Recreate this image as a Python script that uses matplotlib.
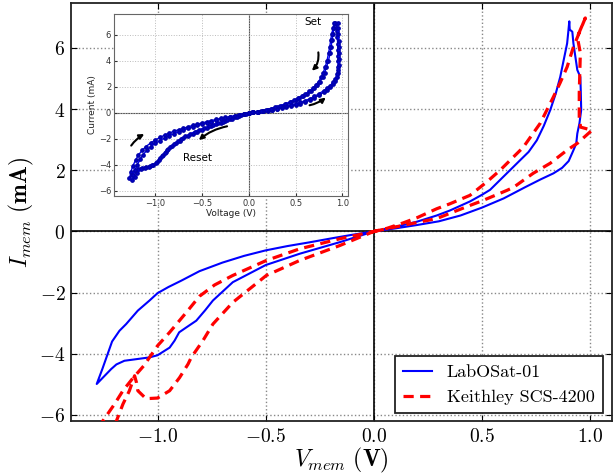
import numpy as np
import matplotlib
matplotlib.use("Agg")
import matplotlib.pyplot as plt
from matplotlib.ticker import FuncFormatter

plt.rcParams['mathtext.fontset'] = 'cm'

# ---- main plot: LabOSat-01 (blue) ----
labosat_v = [0.0, 0.1, 0.2, 0.3, 0.4, 0.5, 0.6, 0.7, 0.77, 0.83, 0.87, 0.9, 0.92, 0.935,
             0.94, 0.95, 0.958, 0.956, 0.954, 0.94, 0.922, 0.917, 0.905, 0.903,
             0.898, 0.893, 0.877, 0.861, 0.84, 0.815, 0.785, 0.753, 0.715, 0.676, 0.6,
             0.537, 0.5, 0.444, 0.35, 0.29, 0.2, 0.1, 0.0,
             -0.1, -0.19, -0.3, -0.4, -0.5, -0.6, -0.7, -0.806, -0.89, -0.95, -1.0, -1.037,
             -1.091, -1.145, -1.176, -1.21, -1.23, -1.255, -1.281,
             -1.214, -1.19, -1.153, -1.1, -1.037, -1.0, -0.944, -0.921, -0.9, -0.867, -0.821,
             -0.78, -0.744, -0.652, -0.5, -0.343, -0.157, 0.0]
labosat_i = [0.0, 0.1, 0.21, 0.33, 0.52, 0.78, 1.08, 1.45, 1.7, 1.9, 2.08, 2.3, 2.62, 2.87,
             3.2, 3.54, 3.97, 4.6, 5.05, 5.28, 6.15, 6.53, 6.6, 6.87,
             6.5, 6.15, 5.6, 5.05, 4.5, 3.97, 3.45, 2.98, 2.6, 2.33, 1.8,
             1.36, 1.2, 0.98, 0.68, 0.52, 0.32, 0.15, 0.0,
             -0.11, -0.22, -0.36, -0.48, -0.62, -0.8, -1.02, -1.3, -1.61, -1.82, -2.02, -2.26,
             -2.59, -3.03, -3.25, -3.6, -4.0, -4.5, -4.99,
             -4.5, -4.35, -4.23, -4.18, -4.12, -4.05, -3.8, -3.57, -3.3, -3.14, -2.92,
             -2.58, -2.26, -1.66, -1.1, -0.73, -0.35, 0.0]

# ---- main plot: Keithley SCS-4200 (red dashed) ----
keithley_v = [0.0, 0.136, 0.29, 0.444, 0.5, 0.614, 0.645, 0.736, 0.815, 0.893, 0.94, 1.008,
              0.955, 0.949, 0.949, 0.954, 0.94, 0.977,
              0.922, 0.893, 0.86, 0.829, 0.769, 0.69, 0.583, 0.522, 0.444, 0.35, 0.29, 0.2,
              0.136, 0.06, 0.0,
              -0.157, -0.343, -0.497, -0.652, -0.736, -0.806, -0.867, -0.944, -1.0, -1.037,
              -1.063, -1.114, -1.16, -1.199, -1.253, -1.29, -1.26,
              -1.215, -1.19, -1.16, -1.13, -1.106, -1.097, -1.091, -1.053, -1.0, -0.944,
              -0.898, -0.859, -0.844, -0.79, -0.744, -0.652, -0.497, -0.343, -0.157, 0.0]
keithley_i = [0.0, 0.2, 0.42, 0.85, 1.0, 1.34, 1.44, 1.9, 2.23, 2.66, 2.88, 3.31,
              3.41, 3.74, 4.52, 5.84, 6.36, 6.98,
              6.03, 5.38, 4.85, 4.39, 3.54, 2.75, 2.0, 1.62, 1.18, 0.9, 0.74, 0.45,
              0.28, 0.1, 0.0,
              -0.24, -0.57, -0.95, -1.44, -1.75, -2.12, -2.65, -3.3, -3.74, -4.12,
              -4.39, -4.8, -5.21, -5.65, -6.2, -6.6, -7.2,
              -6.6, -6.2, -5.65, -5.21, -4.72, -4.95, -5.21, -5.47, -5.45, -5.21,
              -4.78, -4.34, -4.12, -3.57, -3.03, -2.32, -1.44, -0.95, -0.46, 0.0]

# ---- inset: two measured cycles ----
c1_v = [0.0, 0.05, 0.1, 0.15, 0.2, 0.25, 0.3, 0.35, 0.4, 0.45, 0.5, 0.55, 0.6, 0.65, 0.7,
        0.75, 0.8, 0.84, 0.87, 0.9, 0.92, 0.94, 0.95, 0.955, 0.955, 0.955, 0.95, 0.95,
        0.945, 0.94, 0.935,
        0.92, 0.91, 0.9, 0.89, 0.88, 0.87, 0.85, 0.83, 0.81, 0.79, 0.76, 0.73, 0.7, 0.66,
        0.62, 0.58, 0.54, 0.5, 0.45, 0.4, 0.35, 0.3, 0.25, 0.2, 0.15, 0.1, 0.05, 0.0,
        -0.05, -0.1, -0.15, -0.2, -0.25, -0.3, -0.35, -0.4, -0.45, -0.5, -0.55, -0.6,
        -0.65, -0.7, -0.75, -0.8, -0.85, -0.9, -0.95, -1.0, -1.05, -1.1, -1.14, -1.18,
        -1.21, -1.24, -1.26, -1.275,
        -1.25, -1.22, -1.18, -1.14, -1.1, -1.06, -1.02, -0.98, -0.95, -0.92, -0.89,
        -0.86, -0.82, -0.78, -0.74, -0.7, -0.65, -0.6, -0.55, -0.5, -0.45, -0.4, -0.35,
        -0.3, -0.25, -0.2, -0.15, -0.1, -0.05, 0.0]
c1_i = [0.0, 0.03, 0.07, 0.11, 0.16, 0.22, 0.29, 0.36, 0.44, 0.52, 0.61, 0.71, 0.83, 0.97,
        1.15, 1.35, 1.58, 1.78, 1.98, 2.2, 2.45, 2.75, 3.1, 3.5, 3.95, 4.4, 4.85, 5.3,
        5.8, 6.3, 6.85,
        6.9, 6.5, 6.05, 5.6, 5.1, 4.6, 4.0, 3.5, 3.1, 2.75, 2.4, 2.12, 1.9, 1.66,
        1.45, 1.27, 1.11, 0.97, 0.81, 0.67, 0.54, 0.43, 0.33, 0.24, 0.16, 0.09, 0.04, 0.0,
        -0.08, -0.15, -0.22, -0.29, -0.36, -0.43, -0.51, -0.6, -0.69, -0.78, -0.87, -0.97,
        -1.08, -1.2, -1.3, -1.42, -1.56, -1.72, -1.9, -2.1, -2.33, -2.6, -2.9, -3.25,
        -3.65, -4.1, -4.55, -5.05,
        -4.8, -4.5, -4.3, -4.22, -4.17, -4.12, -4.0, -3.75, -3.5, -3.25, -3.0,
        -2.8, -2.55, -2.35, -2.15, -1.97, -1.77, -1.6, -1.44, -1.29, -1.15, -1.02, -0.89,
        -0.76, -0.62, -0.49, -0.36, -0.23, -0.11, 0.0]

c2_v = [0.0, 0.05, 0.1, 0.15, 0.2, 0.25, 0.3, 0.35, 0.4, 0.45, 0.5, 0.55, 0.6, 0.65, 0.7,
        0.75, 0.8, 0.84, 0.87, 0.9, 0.925, 0.945, 0.955, 0.96, 0.965, 0.965, 0.962, 0.96,
        0.957, 0.952, 0.948,
        0.91, 0.9, 0.885, 0.875, 0.865, 0.852, 0.835, 0.815, 0.795, 0.775, 0.745, 0.715,
        0.685, 0.645, 0.605, 0.565, 0.525, 0.485, 0.435, 0.385, 0.335, 0.285, 0.235, 0.185,
        0.135, 0.085, 0.035, 0.0,
        -0.05, -0.1, -0.15, -0.2, -0.25, -0.3, -0.35, -0.4, -0.45, -0.5, -0.55, -0.6,
        -0.65, -0.7, -0.75, -0.8, -0.85, -0.9, -0.95, -1.0, -1.05, -1.09, -1.13, -1.16,
        -1.19, -1.215, -1.235, -1.245,
        -1.22, -1.19, -1.15, -1.11, -1.07, -1.03, -0.99, -0.96, -0.93, -0.9, -0.87,
        -0.84, -0.8, -0.76, -0.72, -0.68, -0.63, -0.58, -0.53, -0.48, -0.43, -0.38, -0.33,
        -0.28, -0.23, -0.18, -0.13, -0.08, -0.03, 0.0]
c2_i = [0.0, 0.04, 0.08, 0.13, 0.19, 0.25, 0.33, 0.41, 0.5, 0.59, 0.69, 0.8, 0.93, 1.08,
        1.26, 1.47, 1.7, 1.9, 2.1, 2.35, 2.6, 2.95, 3.3, 3.7, 4.15, 4.6, 5.05, 5.55,
        6.05, 6.5, 6.9,
        6.9, 6.5, 6.05, 5.6, 5.1, 4.6, 4.0, 3.5, 3.1, 2.75, 2.4, 2.12, 1.9, 1.66,
        1.45, 1.27, 1.11, 0.97, 0.81, 0.67, 0.54, 0.43, 0.33, 0.24, 0.16, 0.09, 0.04, 0.0,
        -0.09, -0.17, -0.25, -0.33, -0.41, -0.49, -0.58, -0.67, -0.77, -0.87, -0.97, -1.08,
        -1.2, -1.33, -1.46, -1.6, -1.76, -1.94, -2.14, -2.36, -2.62, -2.9, -3.22, -3.58,
        -3.98, -4.4, -4.8, -5.2,
        -4.95, -4.6, -4.35, -4.25, -4.18, -4.05, -3.85, -3.6, -3.35, -3.1, -2.88,
        -2.66, -2.42, -2.2, -2.0, -1.82, -1.63, -1.46, -1.31, -1.17, -1.04, -0.92, -0.8,
        -0.68, -0.56, -0.44, -0.32, -0.2, -0.08, 0.0]

x_ticks = [-1.0, -0.5, 0.0, 0.5, 1.0]
y_ticks = [-6, -4, -2, 0, 2, 4, 6]

fig = plt.figure(figsize=(6.15, 4.75), dpi=100)
ax = fig.add_axes([0.1154, 0.1137, 0.8796, 0.88])

ax.plot(labosat_v, labosat_i, color='#0000ff', lw=1.5, label='LabOSat-01', zorder=3)
ax.plot(keithley_v, keithley_i, color='#ff0000', lw=2.3, ls=(0, (3.2, 2.0)),
        label='Keithley SCS-4200', zorder=3)
ax.axhline(0, color='k', lw=1.2, zorder=2)
ax.axvline(0, color='k', lw=1.2, zorder=2)

ax.set_xlim(-1.40, 1.10)
ax.set_ylim(-6.2, 7.47)
ax.set_xticks(x_ticks)
ax.set_yticks(y_ticks)
ax.xaxis.set_major_formatter(FuncFormatter(lambda v, p: r'$%.1f$' % v))
ax.yaxis.set_major_formatter(FuncFormatter(lambda v, p: r'$%d$' % v))
ax.tick_params(direction='in', top=True, right=True, length=4, labelsize=14, pad=4)
ax.grid(True, ls=':', color='#888888', lw=1.0)
for s in ax.spines.values():
    s.set_linewidth(1.3)
    s.set_color('#222222')

ax.set_xlabel(r'$V_{mem}\ \mathbf{(V)}$', fontsize=17, labelpad=0)
ax.set_ylabel(r'$I_{mem}\ \mathbf{(mA)}$', fontsize=17, labelpad=2)

leg = ax.legend(loc='lower right', bbox_to_anchor=(0.983, 0.019), borderaxespad=0,
                fancybox=False, edgecolor='#222222', handlelength=1.6, borderpad=0.45,
                prop={'family': 'cmr10', 'size': 13}, framealpha=1)
leg.get_frame().set_linewidth(1.3)

# ---- inset ----
axin = fig.add_axes([0.1854, 0.5874, 0.3805, 0.3831])
axin.plot(c1_v, c1_i, color='#0000ee', lw=1.0, marker='o', ms=2.4, mec='#0000aa',
          mfc='#0000cc')
axin.plot(c2_v, c2_i, color='#0000ee', lw=1.0, marker='o', ms=2.4, mec='#0000aa',
          mfc='#0000cc')
axin.axhline(0, color='#555555', lw=0.8, zorder=0)
axin.axvline(0, color='#555555', lw=0.8, zorder=0)
axin.set_xlim(-1.44, 1.06)
axin.set_ylim(-6.4, 7.6)
axin.set_xticks(x_ticks)
axin.set_yticks(y_ticks)
axin.grid(True, ls=':', color='#bbbbbb', lw=0.7)
axin.tick_params(direction='in', length=2, labelsize=6, colors='#333333', pad=2)
for s in axin.spines.values():
    s.set_linewidth(0.8)
    s.set_color('#666666')
axin.set_xlabel('Voltage (V)', fontsize=6.5, labelpad=1, color='#222222')
axin.set_ylabel('Current (mA)', fontsize=6.5, labelpad=1, color='#222222')

axin.text(0.684, 6.95, 'Set', fontsize=7.5, ha='center', va='center')
axin.text(-0.545, -3.47, 'Reset', fontsize=7.5, ha='center', va='center')
arrow = dict(arrowstyle='-|>', color='k', lw=1.5, mutation_scale=7)
axin.annotate('', xy=(0.652, 3.09), xytext=(0.738, 4.86),
              arrowprops=dict(arrow, connectionstyle='arc3,rad=-0.3'))
axin.annotate('', xy=(0.845, 1.31), xytext=(0.62, 0.54),
              arrowprops=dict(arrow, connectionstyle='arc3,rad=0.15'))
axin.annotate('', xy=(-0.556, -2.24), xytext=(-0.203, -1.0),
              arrowprops=dict(arrow, connectionstyle='arc3,rad=0.15'))
axin.annotate('', xy=(-1.09, -1.54), xytext=(-1.273, -2.7),
              arrowprops=dict(arrow, connectionstyle='arc3,rad=-0.15'))

fig.savefig('out.png', dpi=100)
